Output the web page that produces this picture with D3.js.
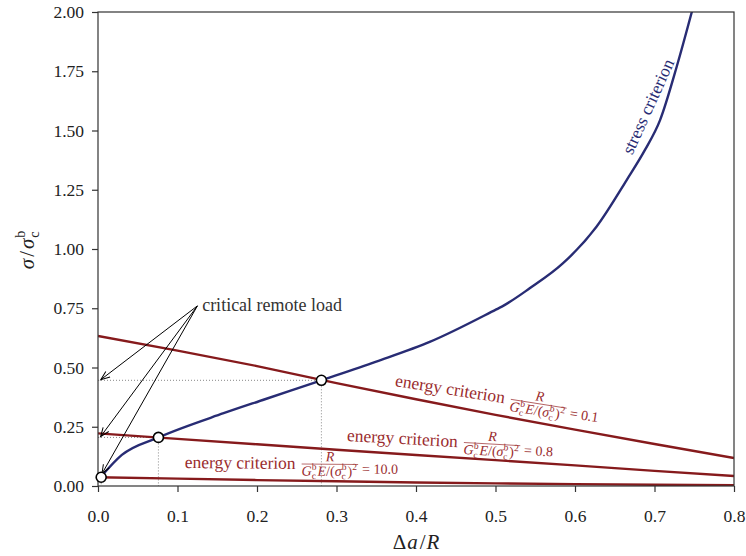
<!DOCTYPE html>
<html>
<head>
<meta charset="utf-8">
<script src="https://cdn.jsdelivr.net/npm/d3@7"></script>
<style>
  body { margin: 0; background: #fff; }
</style>
</head>
<body>
<div id="chart"></div>
<script>
// values
const xTicks = [0, 0.1, 0.2, 0.3, 0.4, 0.5, 0.6, 0.7, 0.8];
const yTicks = [0, 0.25, 0.5, 0.75, 1.0, 1.25, 1.5, 1.75, 2.0];

const stressX = [0.003, 0.030, 0.076, 0.158, 0.210, 0.281, 0.350, 0.418, 0.501, 0.508, 0.543, 0.585, 0.627, 0.665, 0.688, 0.707, 0.728, 0.747];
const stressY = [0.036, 0.131, 0.205, 0.307, 0.366, 0.446, 0.525, 0.609, 0.745, 0.757, 0.834, 0.940, 1.094, 1.291, 1.418, 1.544, 1.770, 2.001];

const energyX = [0, 0.1, 0.2, 0.3, 0.4, 0.5, 0.6, 0.7, 0.8];
const energy01 = [0.633, 0.571, 0.506, 0.434, 0.366, 0.300, 0.238, 0.177, 0.118];
const energy08 = [0.222, 0.199, 0.176, 0.153, 0.131, 0.109, 0.087, 0.064, 0.042];
const energy10 = [0.037, 0.031, 0.025, 0.020, 0.015, 0.011, 0.008, 0.005, 0.003];

const ratioLabels = ["0.1", "0.8", "10.0"];
const critX = [0.281, 0.076, 0.004];
const critY = [0.446, 0.205, 0.037];

const FONT = '"Liberation Serif", "Times New Roman", serif';

const width = 746, height = 556;
const margin = {top: 12, right: 12, bottom: 70, left: 98};
const innerW = width - margin.left - margin.right;
const innerH = height - margin.top - margin.bottom;

const blue = "#282c74";
const red = "#861a1c";
const redText = "#9a2c2e";
const ink = "#222";

const svg = d3.select("#chart")
    .append("svg")
    .attr("width", width)
    .attr("height", height)
    .style("font-family", FONT);

const g = svg.append("g")
    .attr("transform", `translate(${margin.left},${margin.top})`);

const x = d3.scaleLinear().domain([0, 0.8]).range([0, innerW]);
const y = d3.scaleLinear().domain([0, 2.0]).range([innerH, 0]);

const defs = svg.append("defs");
defs.append("clipPath").attr("id", "plot-clip")
    .append("rect").attr("width", innerW).attr("height", innerH);

defs.append("marker")
    .attr("id", "arrow")
    .attr("viewBox", "-10 -5 12 10")
    .attr("refX", 0).attr("refY", 0)
    .attr("markerWidth", 12).attr("markerHeight", 10)
    .attr("markerUnits", "userSpaceOnUse")
    .attr("orient", "auto")
    .append("path")
    .attr("d", "M-9,-3.5 L0,0 L-9,3.5")
    .attr("fill", "none")
    .attr("stroke", "#000")
    .attr("stroke-width", 1);

// small helper to lay out math-like text pieces
function runText(sel, tokens, x0, y0, fs, color) {
    let cx = x0;
    tokens.forEach(tk => {
        if (tk.sup !== undefined || tk.sub !== undefined) {
            const sfs = fs * 0.68;
            let w = 0;
            if (tk.sup) {
                const t = sel.append("text").attr("x", cx).attr("y", y0 - fs * 0.42)
                    .attr("font-size", sfs).attr("fill", color).text(tk.sup);
                w = Math.max(w, t.node().getComputedTextLength());
            }
            if (tk.sub) {
                const t = sel.append("text").attr("x", cx).attr("y", y0 + fs * 0.24)
                    .attr("font-size", sfs).attr("fill", color).text(tk.sub);
                w = Math.max(w, t.node().getComputedTextLength());
            }
            cx += w + fs * 0.08;
        } else {
            const t = sel.append("text").attr("x", cx).attr("y", y0)
                .attr("font-size", fs)
                .attr("font-style", tk.it ? "italic" : null)
                .attr("fill", color).text(tk.s);
            cx += t.node().getComputedTextLength() + (tk.sp || 0);
        }
    });
    return cx - x0;
}

const denomTokens = [
    {s: "G", it: true}, {sup: "b", sub: "c"}, {s: "E", it: true}, {s: "/("},
    {s: "σ", it: true}, {sup: "b", sub: "c"}, {s: ")"}, {sup: "2"}
];

// axes
const xAxis = g.append("g")
    .attr("transform", `translate(0,${innerH})`)
    .call(d3.axisBottom(x).tickValues(xTicks).tickFormat(d3.format(".1f")).tickSize(6).tickPadding(18));
const yAxis = g.append("g")
    .call(d3.axisLeft(y).tickValues(yTicks).tickFormat(d3.format(".2f")).tickSize(6).tickPadding(8));
[xAxis, yAxis].forEach(a => {
    a.attr("font-family", null);
    a.select(".domain").remove();
    a.selectAll(".tick line").attr("stroke", "#333").attr("stroke-width", 1.2);
    a.selectAll(".tick text").attr("font-size", 17.5).attr("fill", ink);
});

const plot = g.append("g").attr("clip-path", "url(#plot-clip)");

// dotted guides from the critical points
critX.forEach((cx, i) => {
    plot.append("line")
        .attr("x1", x(0)).attr("x2", x(cx))
        .attr("y1", y(critY[i])).attr("y2", y(critY[i]))
        .attr("stroke", "#888").attr("stroke-width", 1).attr("stroke-dasharray", "1,2");
    plot.append("line")
        .attr("x1", x(cx)).attr("x2", x(cx))
        .attr("y1", y(critY[i])).attr("y2", y(0))
        .attr("stroke", "#888").attr("stroke-width", 1).attr("stroke-dasharray", "1,2");
});

const line = d3.line().x(d => x(d[0])).y(d => y(d[1]));

[energy01, energy08, energy10].forEach(vals => {
    plot.append("path")
        .datum(energyX.map((v, i) => [v, vals[i]]))
        .attr("fill", "none")
        .attr("stroke", red)
        .attr("stroke-width", 2.4)
        .attr("d", line);
});

plot.append("path")
    .datum(stressX.map((v, i) => [v, stressY[i]]))
    .attr("fill", "none")
    .attr("stroke", blue)
    .attr("stroke-width", 2.4)
    .attr("d", line.curve(d3.curveMonotoneX));

// frame
g.append("rect")
    .attr("width", innerW).attr("height", innerH)
    .attr("fill", "none").attr("stroke", "#333").attr("stroke-width", 1.2);

// annotation arrows
const srcX = x(0.125), srcY = y(0.76);
critY.forEach((cy, i) => {
    const tx = x(0) + 2, ty = y(cy);
    const dx = tx - srcX, dy = ty - srcY, len = Math.hypot(dx, dy);
    const shrink = i === 2 ? 4 : 1;
    g.append("line")
        .attr("x1", srcX).attr("y1", srcY)
        .attr("x2", tx - dx / len * shrink).attr("y2", ty - dy / len * shrink)
        .attr("stroke", "#000").attr("stroke-width", 1)
        .attr("marker-end", "url(#arrow)");
});

g.append("text")
    .attr("x", x(0.131)).attr("y", y(0.76) + 5.5)
    .attr("font-size", 18).attr("fill", "#333")
    .text("critical remote load");

// markers
critX.forEach((cx, i) => {
    g.append("circle")
        .attr("cx", x(cx)).attr("cy", y(critY[i]))
        .attr("r", 5)
        .attr("fill", "#fff").attr("stroke", "#000").attr("stroke-width", 1.6);
});

// energy criterion labels
const labelPos = [
    {lx: 0.373, ly: 0.422, rot: 9},
    {lx: 0.313, ly: 0.190, rot: 3.2},
    {lx: 0.109, ly: 0.076, rot: 0.5}
];
labelPos.forEach((p, i) => {
    const lg = g.append("g")
        .attr("transform", `translate(${x(p.lx)},${y(p.ly)}) rotate(${p.rot})`);
    const t = lg.append("text").attr("x", 0).attr("y", 0)
        .attr("font-size", 17.5).attr("fill", redText).text("energy criterion");
    const fx = t.node().getComputedTextLength() + 6;
    const fs = 14;
    const w = runText(lg, denomTokens, fx, 6.5, fs, redText);
    lg.append("line")
        .attr("x1", fx).attr("x2", fx + w)
        .attr("y1", -5).attr("y2", -5)
        .attr("stroke", redText).attr("stroke-width", 0.7);
    lg.append("text")
        .attr("x", fx + w / 2).attr("y", -8)
        .attr("text-anchor", "middle")
        .attr("font-size", fs).attr("font-style", "italic")
        .attr("fill", redText).text("R");
    lg.append("text")
        .attr("x", fx + w + 4).attr("y", 4)
        .attr("font-size", fs).attr("fill", redText)
        .text("= " + ratioLabels[i]);
});

// stress criterion label
g.append("text")
    .attr("transform", `translate(${x(0.672)},${y(1.394)}) rotate(-65.6)`)
    .attr("font-size", 17.5).attr("fill", blue)
    .text("stress criterion");

// axis labels
const xl = svg.append("g");
const xw = runText(xl, [{s: "Δ", sp: 1}, {s: "a", it: true, sp: 2}, {s: "/", sp: 1}, {s: "R", it: true}], 0, 0, 21, ink);
xl.attr("transform", `translate(${margin.left + innerW / 2 - xw / 2},549)`);

const yl = svg.append("g").attr("transform", `translate(34,${margin.top + innerH / 2}) rotate(-90)`);
const yin = yl.append("g");
const yw = runText(yin, [{s: "σ", it: true, sp: 2}, {s: "/", sp: 2}, {s: "σ", it: true, sp: 1}, {sup: "b", sub: "c"}], 0, 0, 21, ink);
yin.attr("transform", `translate(${-yw / 2},0)`);
</script>
</body>
</html>
